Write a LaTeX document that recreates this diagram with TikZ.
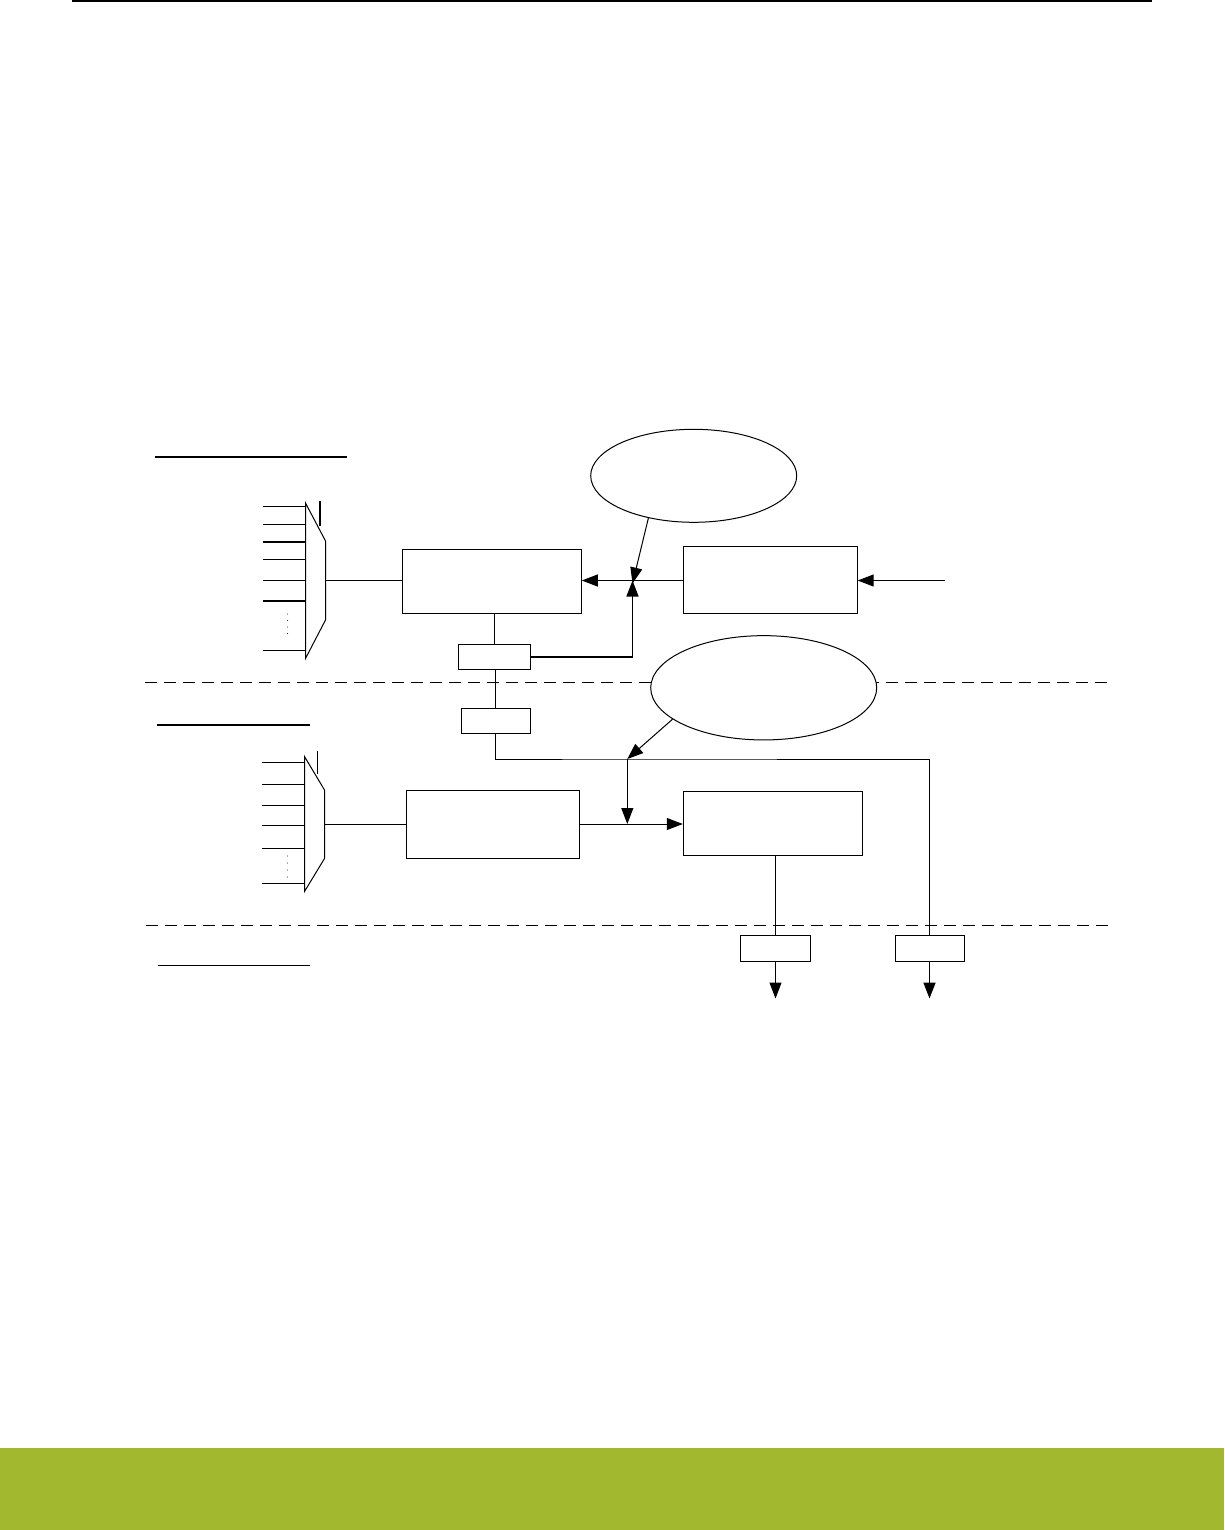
\documentclass[tikz,border=0pt]{standalone}
\usetikzlibrary{shapes.geometric,arrows.meta}
\definecolor{bandgreen}{HTML}{A1B82F}
\begin{document}
\begin{tikzpicture}[x=1pt,y=-1pt,
  line width=1pt,
  box/.style={draw,rectangle,inner sep=0pt,fill=white},
  oval/.style={draw,ellipse,inner sep=0pt,fill=white},
  arr/.style={-{Triangle[length=16pt,width=12pt]}},
  dashline/.style={dash pattern=on 12pt off 7pt},
  uline/.style={line width=2pt}]
\useasboundingbox (0,0) rectangle (1224,1530);
% page decorations
\draw[line width=1.5pt] (72,1) -- (1152,1);
\fill[bandgreen] (0,1448) rectangle (1224,1530);
% section underlines
\draw[uline] (155,457) -- (347,457);
\draw[uline] (157,724.5) -- (310,724.5);
\draw (158,965) -- (310,965);
% dashed separators
\draw[dashline] (145,682) -- (1107,682);
\draw[dashline] (146,925.5) -- (1113,925.5);
% mux 1
\draw (305.5,503) -- (325.5,541) -- (325.5,620) -- (305.5,658.5) -- cycle;
\draw[line width=1.5pt] (320,501) -- (320,525.5);
\foreach \yy/\w in {506/1,524.3/1,542/1.5,559.7/1.5,580.3/1,601/1.5,650/1}
  \draw[line width=\w pt] (263,\yy) -- (305.5,\yy);
\foreach \yy in {614,620.5,627,633.5} \fill (287.7,\yy) circle (0.5pt);
\coordinate (m1out) at (325.5,580.5);
% mux 2
\draw (304.5,756.5) -- (324.5,790) -- (324.5,858.5) -- (304.5,891.5) -- cycle;
\draw (317.3,750.5) -- (317.3,774);
\foreach \yy/\w in {762/1,784.7/1.5,805.3/1,825.3/1,848.3/1,883/1}
  \draw[line width=\w pt] (262,\yy) -- (304.5,\yy);
\foreach \yy in {856,863,870,877} \fill (287.3,\yy) circle (0.5pt);
\coordinate (m2out) at (324.5,824);
% boxes
\node[box,minimum width=179pt,minimum height=64pt] (b1) at (491.8,581) {};
\node[box,minimum width=174pt,minimum height=67pt] (b2) at (770.2,580.2) {};
\node[box,minimum width=72pt,minimum height=25.5pt] (sa) at (494.3,657) {};
\node[box,minimum width=69pt,minimum height=25pt] (sb) at (495.8,720.8) {};
\node[box,minimum width=173pt,minimum height=67.7pt] (b3) at (492.8,824.2) {};
\node[box,minimum width=179pt,minimum height=63.6pt] (b4) at (772.8,823.5) {};
\node[box,minimum width=69.6pt,minimum height=26pt] (sc) at (775.5,948.3) {};
\node[box,minimum width=69pt,minimum height=26pt] (sd) at (929.5,948.3) {};
% ellipses
\node[oval,minimum width=206pt,minimum height=93pt] (e1) at (693.7,475.8) {};
\node[oval,minimum width=226pt,minimum height=104.3pt] (e2) at (763.7,687.8) {};
% junctions and free ends
\coordinate (j1) at (632.5,580.5);
\coordinate (j2) at (627.3,759);
\coordinate (in2) at (945,580.5);
\coordinate (oc) at (775.5,998.5);
\coordinate (od) at (929.5,998.5);
% connectors, upper section
\draw (m1out) -- (m1out -| b1.west);
\draw (sa.north) -- (sa.north |- b1.south);
\draw[arr] (b2.west |- j1) -- (j1 -| b1.east);
\draw[arr,line width=1.4pt] (sa.east) -| (j1);
\draw[arr] (e1.223) -- ([yshift=-3pt]j1);
\draw[arr] (in2) -- (in2 -| b2.east);
% middle section
\draw (sb.north) -- (sb.north |- sa.south);
\draw (sb.south) |- (j2) -- (j2 -| sd.north);
\draw[line width=1.6pt] (j2 -| sd.north) -- (sd.north);
\draw[arr] (e2.199) -- (j2);
\draw (m2out) -- (m2out -| b3.west);
\draw[arr] (b3.east |- m2out) -- (b4.west |- m2out);
\draw[arr] (j2) -- (j2 |- m2out);
\draw (sc.north) -- (sc.north |- b4.south);
% outputs
\draw[arr] (sc.south) -- (oc);
\draw[arr,line width=1.6pt] (sd.south) -- (od);
\end{tikzpicture}
\end{document}
